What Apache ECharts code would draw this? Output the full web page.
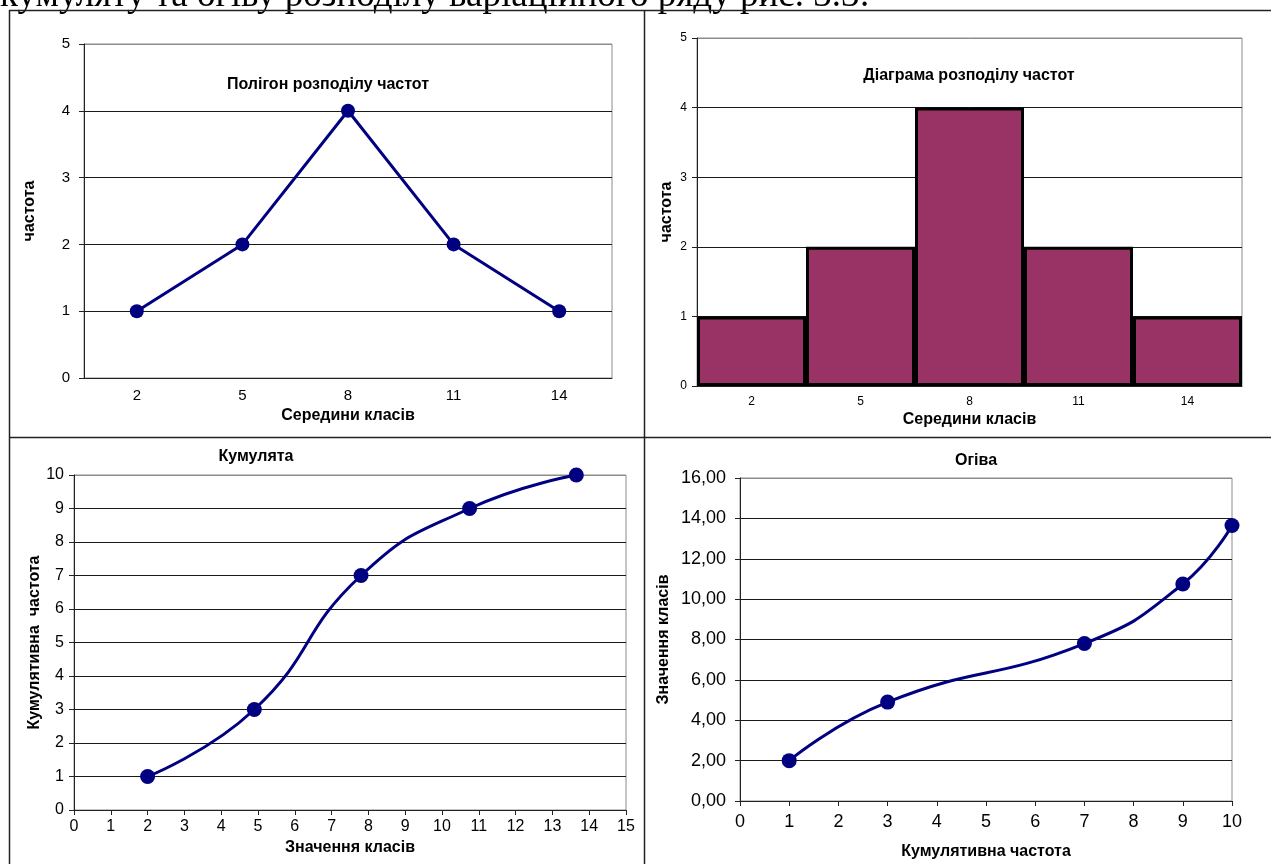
<!DOCTYPE html>
<html>
<head>
<meta charset="utf-8">
<script src="https://cdn.jsdelivr.net/npm/echarts@6/dist/echarts.min.js"></script>
<style>
html,body{margin:0;padding:0;background:#fff;}
#c{width:1271px;height:864px;}
</style>
</head>
<body>
<div id="c"></div>
<script>
// ---- data ----
const categories = ['2', '5', '8', '11', '14'];        // середини класів
const frequencies = [1, 2, 4, 2, 1];                  // частота
const classValues = [2, 4.9, 7.8, 10.75, 13.65];      // значення класів
const cumulative = [1, 3, 7, 9, 10];                  // кумулятивна частота
const headerText = 'кумуляту та огіву розподілу варіаційного ряду рис. 3.3:';
const titles = ['Полігон розподілу частот', 'Діаграма розподілу частот', 'Кумулята', 'Огіва'];

const FONT = '"Liberation Sans", Arial, sans-serif';
const NAVY = '#000080';

const chart = echarts.init(document.getElementById('c'), null, {renderer: 'canvas'});

function gridColors(n) { const a = []; for (let i = 0; i < n; i++) a.push(i === n - 1 ? '#8c8c8c' : '#1a1a1a'); return a; }

function yAxisBase(gi, min, max, interval, name, nameGap, labelSize, margin, fmt) {
  const n = Math.round((max - min) / interval) + 1;
  return {
    gridIndex: gi, type: 'value', min: min, max: max, interval: interval,
    name: name, nameLocation: 'middle', nameGap: nameGap,
    nameTextStyle: {fontFamily: FONT, fontWeight: 'bold', fontSize: 16, color: '#000'},
    axisLine: {show: true, lineStyle: {color: '#222', width: 1}},
    axisTick: {show: true, length: 5, inside: false, lineStyle: {color: '#222'}},
    axisLabel: {fontFamily: FONT, fontSize: labelSize, color: '#000', margin: margin, formatter: fmt},
    splitLine: {show: true, lineStyle: {color: gridColors(n), width: 1}}
  };
}

const xNameStyle = {fontFamily: FONT, fontWeight: 'bold', fontSize: 16, color: '#000'};
const titleStyle = {fontFamily: FONT, fontWeight: 'bold', fontSize: 16, color: '#000'};

const option = {
  backgroundColor: '#fff',
  animation: false,
  title: [
    {text: titles[0], left: 323, top: 72, textAlign: 'center', textStyle: titleStyle},
    {text: titles[1], left: 964, top: 63, textAlign: 'center', textStyle: titleStyle},
    {text: titles[2], left: 251, top: 444, textAlign: 'center', textStyle: titleStyle},
    {text: titles[3], left: 971, top: 448, textAlign: 'center', textStyle: titleStyle}
  ],
  grid: [
    {left: 84, top: 44, width: 528, height: 334, show: true, borderColor: '#8c8c8c', borderWidth: 1, backgroundColor: 'transparent'},
    {left: 697, top: 38, width: 545, height: 348, show: true, borderColor: '#8c8c8c', borderWidth: 1, backgroundColor: 'transparent'},
    {left: 74, top: 475, width: 552, height: 335, show: true, borderColor: '#8c8c8c', borderWidth: 1, backgroundColor: 'transparent'},
    {left: 740, top: 478, width: 492, height: 323, show: true, borderColor: '#8c8c8c', borderWidth: 1, backgroundColor: 'transparent'}
  ],
  xAxis: [
    {gridIndex: 0, type: 'category', data: categories, boundaryGap: true,
     name: 'Середини класів', nameLocation: 'middle', nameGap: 30, nameTextStyle: xNameStyle,
     axisLine: {lineStyle: {color: '#222'}}, axisTick: {length: 5, lineStyle: {color: '#222'}},
     axisLabel: {fontFamily: FONT, fontSize: 15, color: '#000', margin: 10}},
    {gridIndex: 1, type: 'category', data: categories, boundaryGap: true,
     name: 'Середини класів', nameLocation: 'middle', nameGap: 26, nameTextStyle: xNameStyle,
     axisLine: {lineStyle: {color: '#222'}}, axisTick: {length: 5, lineStyle: {color: '#222'}},
     axisLabel: {fontFamily: FONT, fontSize: 12, color: '#000', margin: 10}},
    {gridIndex: 2, type: 'value', min: 0, max: 15, interval: 1,
     name: 'Значення класів', nameLocation: 'middle', nameGap: 30, nameTextStyle: xNameStyle,
     axisLine: {lineStyle: {color: '#222'}}, axisTick: {show: true, length: 5, lineStyle: {color: '#222'}},
     axisLabel: {fontFamily: FONT, fontSize: 16, color: '#000', margin: 9},
     splitLine: {show: false}},
    {gridIndex: 3, type: 'value', min: 0, max: 10, interval: 1,
     name: 'Кумулятивна частота', nameLocation: 'middle', nameGap: 43, nameTextStyle: xNameStyle,
     axisLine: {lineStyle: {color: '#222'}}, axisTick: {show: true, length: 5, lineStyle: {color: '#222'}},
     axisLabel: {fontFamily: FONT, fontSize: 18, color: '#000', margin: 12},
     splitLine: {show: false}}
  ],
  yAxis: [
    yAxisBase(0, 0, 5, 1, 'частота', 46, 15, 14),
    yAxisBase(1, 0, 5, 1, 'частота', 22, 12, 10),
    yAxisBase(2, 0, 10, 1, 'Кумулятивна  частота', 29, 16, 10),
    yAxisBase(3, 0, 16, 2, 'Значення класів', 68, 18, 14, v => v.toFixed(2).replace('.', ','))
  ],
  series: [
    {type: 'line', xAxisIndex: 0, yAxisIndex: 0, data: frequencies,
     symbol: 'circle', symbolSize: 14, lineStyle: {color: NAVY, width: 3}, itemStyle: {color: NAVY}},
    {type: 'bar', xAxisIndex: 1, yAxisIndex: 1, data: frequencies, barCategoryGap: '0%',
     itemStyle: {color: '#993366', borderColor: '#000', borderWidth: 3}},
    {type: 'line', xAxisIndex: 2, yAxisIndex: 2, data: classValues.map((x, i) => [x, cumulative[i]]),
     smooth: 0.5, symbol: 'circle', symbolSize: 15, lineStyle: {color: NAVY, width: 3}, itemStyle: {color: NAVY}},
    {type: 'line', xAxisIndex: 3, yAxisIndex: 3, data: cumulative.map((x, i) => [x, classValues[i]]),
     smooth: 0.5, symbol: 'circle', symbolSize: 15, lineStyle: {color: NAVY, width: 3}, itemStyle: {color: NAVY}}
  ],
  graphic: [
    {type: 'text', left: 0, top: -22, silent: true,
     style: {text: headerText, font: '37px "Liberation Serif", "Times New Roman", serif', fill: '#000'}},
    {type: 'line', silent: true, shape: {x1: 9, y1: 10.5, x2: 1271, y2: 10.5}, style: {stroke: '#222', lineWidth: 1.5}},
    {type: 'line', silent: true, shape: {x1: 9, y1: 437.5, x2: 1271, y2: 437.5}, style: {stroke: '#222', lineWidth: 1.5}},
    {type: 'line', silent: true, shape: {x1: 9.5, y1: 10, x2: 9.5, y2: 864}, style: {stroke: '#222', lineWidth: 1.5}},
    {type: 'line', silent: true, shape: {x1: 644.5, y1: 10, x2: 644.5, y2: 864}, style: {stroke: '#222', lineWidth: 1.5}}
  ]
};
chart.setOption(option);
</script>
</body>
</html>
